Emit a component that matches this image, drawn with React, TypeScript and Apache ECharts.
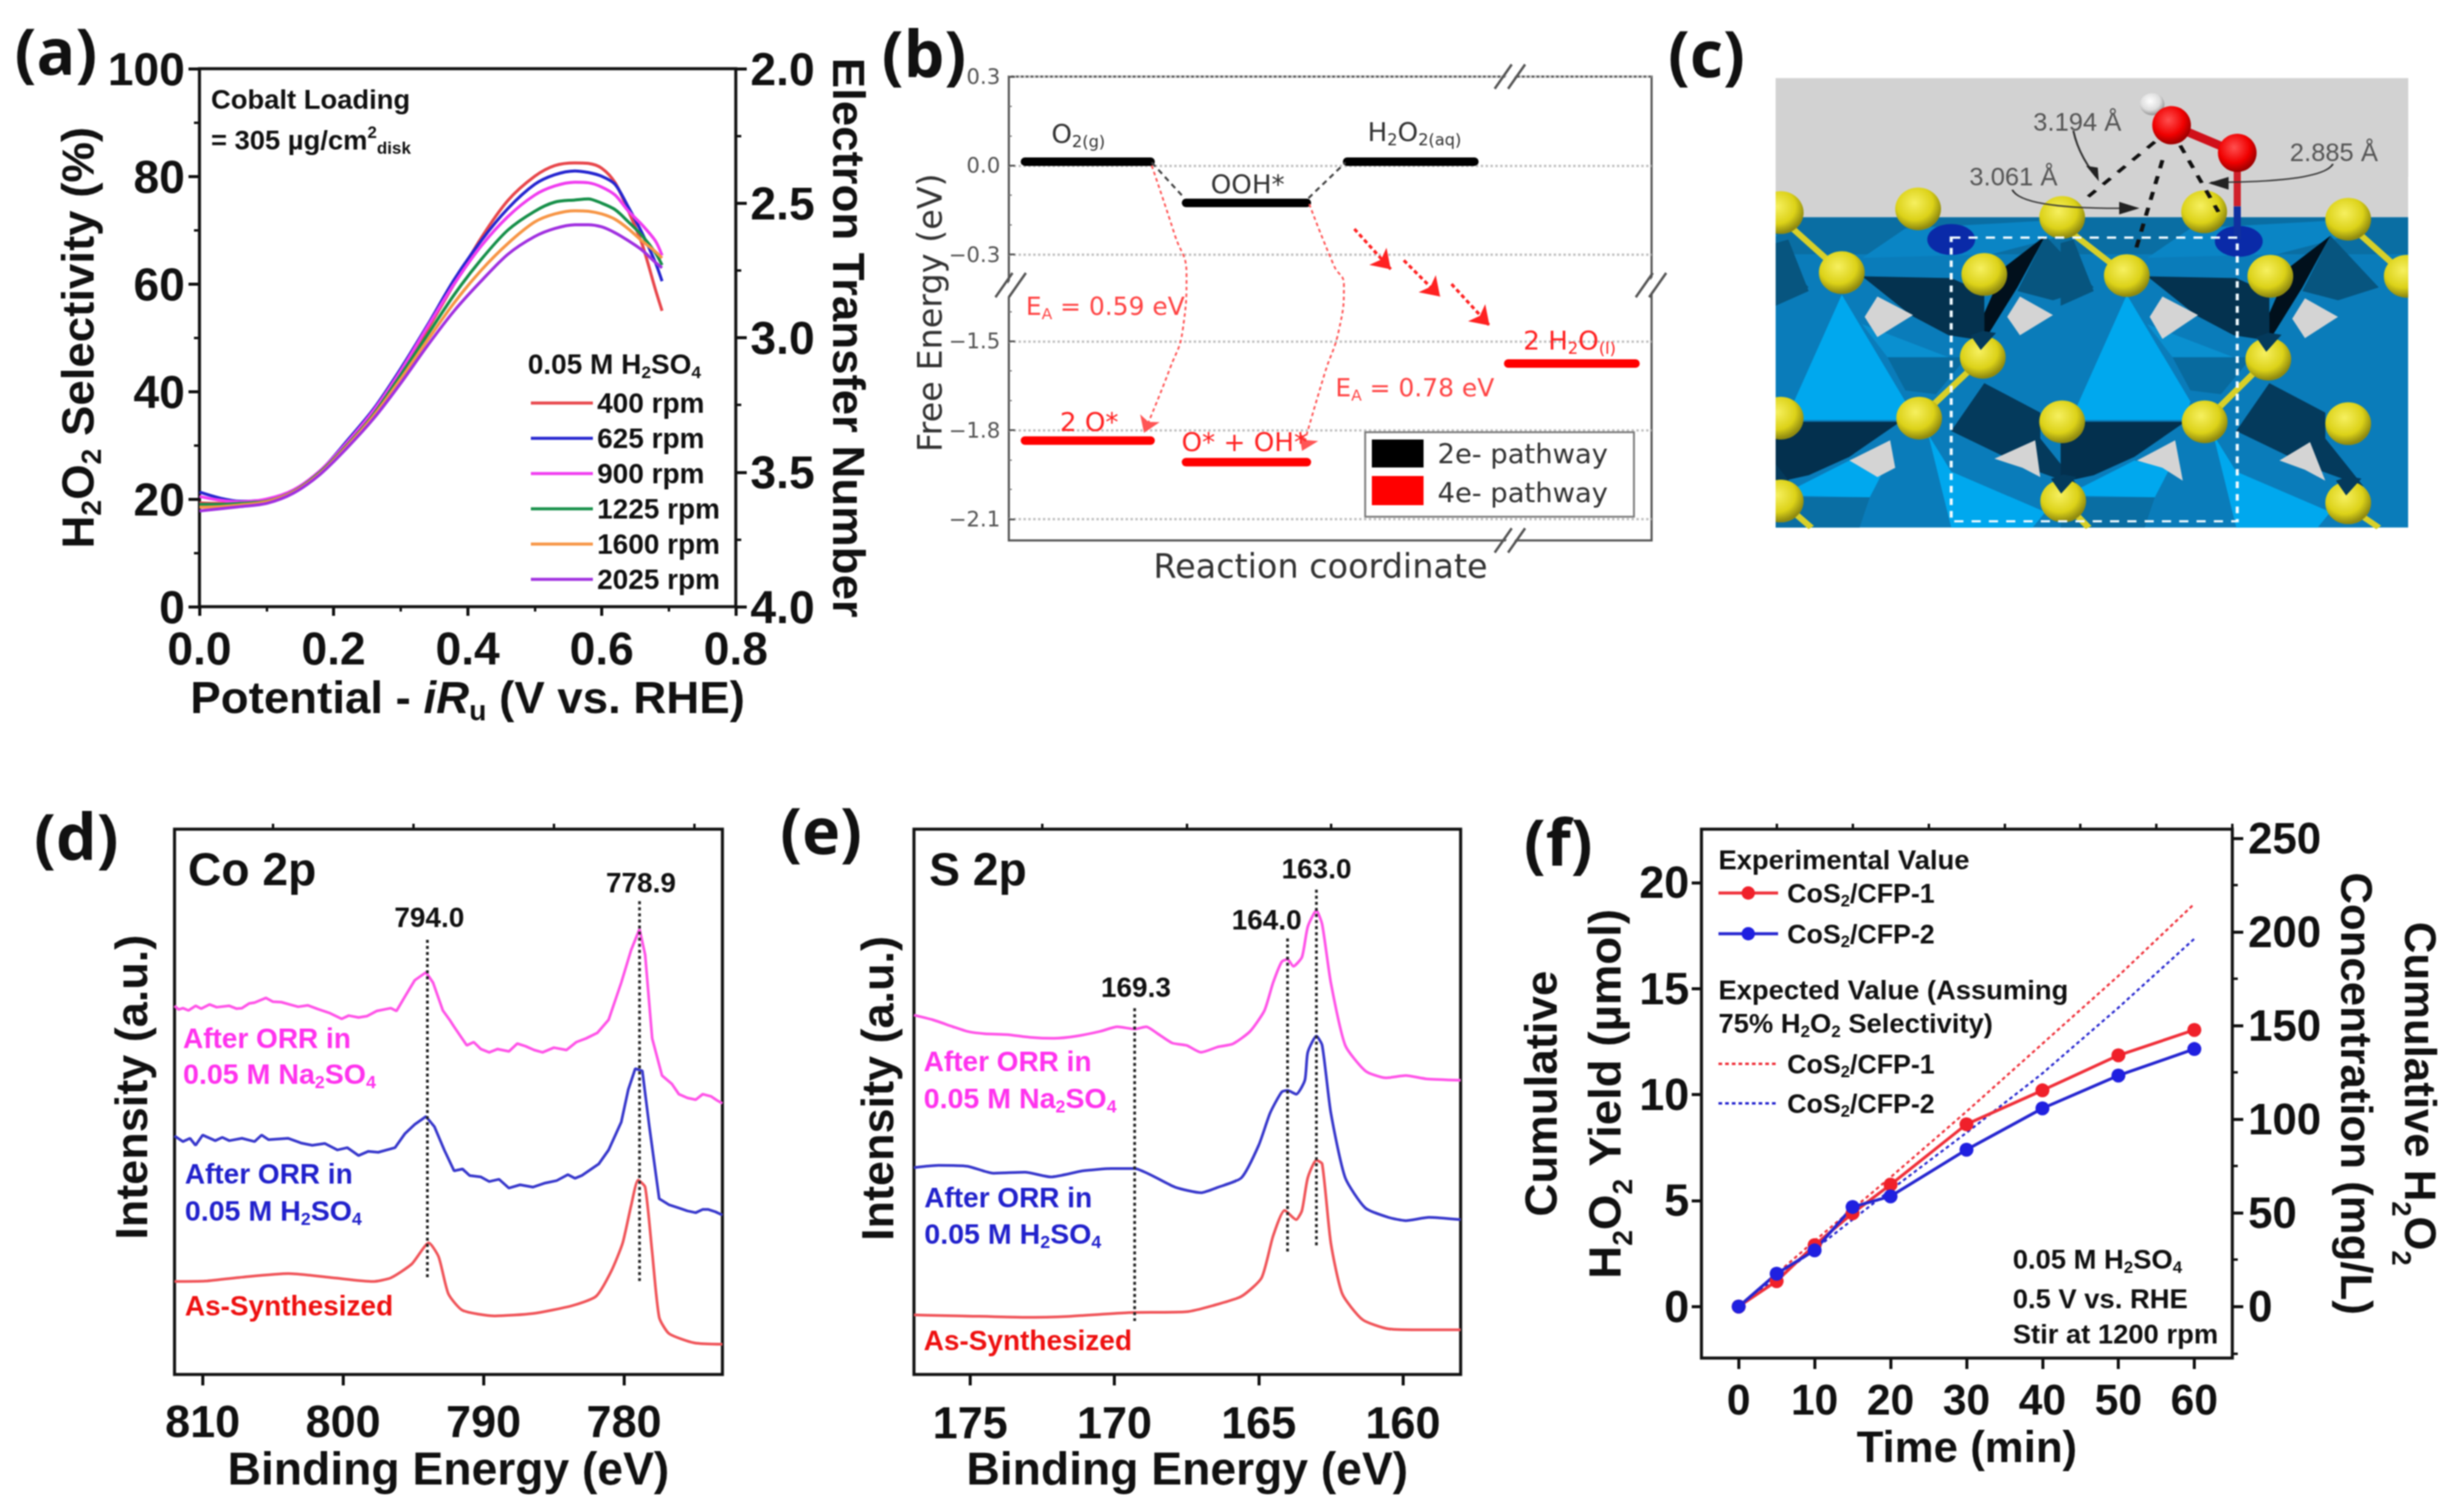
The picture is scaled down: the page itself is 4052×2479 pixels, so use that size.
import React, { useEffect, useRef } from "react";
import * as echarts from "echarts";

const SANS = "Liberation Sans";
const DEJA = "DejaVu Sans";

// ---------- panel (a)
const aPotential = [0, 0.03, 0.06, 0.1, 0.14, 0.18, 0.22, 0.26, 0.3, 0.34, 0.38, 0.42, 0.46, 0.5, 0.53, 0.56, 0.58, 0.6, 0.62, 0.64, 0.66, 0.68, 0.69];
const a400 = [19.3, 19.2, 19.3, 19.8, 21.5, 25, 30.5, 36.3, 43.5, 51.5, 60, 68.5, 75.5, 80, 82, 82.5, 82.4, 81.5, 78.8, 73.5, 67.5, 59, 55];
const a625 = [21.3, 20.2, 19.6, 19.9, 21.6, 25.2, 30.8, 36.8, 44.2, 52.3, 60.8, 68, 74, 78.5, 80.3, 81, 80.7, 80, 78.5, 74.2, 69.5, 64, 60.5];
const a900 = [20.5, 19.8, 19.5, 20, 21.7, 25.3, 30.5, 36.5, 43.8, 52, 60, 67, 72.5, 76.5, 78.2, 78.9, 78.8, 78, 76.5, 73.5, 71, 68, 65.3];
const a1225 = [19, 19, 19.2, 19.6, 21.4, 25, 30, 35.8, 43, 50.5, 58, 64.5, 70, 73.5, 75.2, 75.6, 75.8, 75, 73.8, 71.5, 69, 65.8, 63.5];
const a1600 = [18.5, 18.6, 18.9, 19.5, 21.3, 24.8, 29.8, 35.5, 42.3, 49.5, 56.5, 62.5, 67.5, 71.5, 73, 73.6, 73.5, 73, 72, 70.2, 68, 66, 64.8];
const a2025 = [17.8, 18.2, 18.6, 19.2, 21.1, 24.6, 29.5, 35, 41.5, 48.5, 55, 60.5, 65.5, 68.8, 70.3, 71, 71, 70.6, 69.5, 68, 66.3, 64, 63];
const aNames = ["400 rpm", "625 rpm", "900 rpm", "1225 rpm", "1600 rpm", "2025 rpm"];
const aValues = [a400, a625, a900, a1225, a1600, a2025];
const aColors = ["#e8474c", "#2626d0", "#f03df0", "#17904a", "#f79646", "#a030e0"];

// ---------- panel (b)
const bTicks = [0.3, 0, -0.3, -1.5, -1.8, -2.1];
const bMinorTicks = [0.2, 0.1, -0.1, -0.2, -1.4, -1.6, -1.7, -1.9, -2.0];
const bLevels2e = [
  [[0.1, 0.013], [0.88, 0.013]],
  [[1.1, -0.126], [1.85, -0.126]],
  [[2.1, 0.013], [2.89, 0.013]],
];
const bLevels4e = [
  [[0.1, -1.835], [0.88, -1.835]],
  [[1.1, -1.908], [1.85, -1.908]],
  [[3.1, -1.575], [3.89, -1.575]],
];
const bConnect = [
  [[0.887, 0.01], [1.09, -0.11]],
  [[1.86, -0.11], [2.09, 0.01]],
];
const bArc1 = [[0.887, 0.0], [1.03, -0.234], [1.103, -0.366], [1.08, -1.46], [1.0, -1.592], [0.839, -1.809]];
const bArc2 = [[1.865, -0.13], [2.02, -0.34], [2.08, -0.40], [2.05, -1.46], [1.96, -1.61], [1.82, -1.87]];
const bHop1 = [[2.145, -0.214], [2.371, -0.35]];
const bHop2 = [[2.452, -0.32], [2.677, -1.349]];
const bHop3 = [[2.748, -0.4], [2.984, -1.447]];

// ---------- panel (d)
const dPink = [[812, 793], [811.7, 785], [811.4, 788], [811, 783], [810.5, 793], [810.1, 787], [809.5, 796], [809, 790], [808.1, 793], [807.6, 787], [807.2, 788], [806.7, 798], [806.3, 800], [805.5, 810], [805, 802], [804.4, 801], [803.8, 796], [803.2, 791], [802.5, 794], [801.8, 786], [801, 778], [800.1, 765], [799.6, 772], [798.9, 768], [798.3, 771], [797.6, 782], [796.6, 788], [796.2, 782], [795.6, 813], [794.9, 848], [794.1, 865], [793.6, 843], [792.9, 783], [792.4, 762], [792.1, 748], [791.2, 708], [790.7, 715], [790.2, 700], [789.6, 693], [789, 700], [788.2, 695], [787.6, 712], [787, 706], [786.4, 698], [785.8, 693], [785, 703], [784.1, 698], [783.4, 715], [782.7, 723], [781.9, 735], [781.1, 763], [780.2, 843], [779.5, 913], [778.9, 958], [778.5, 903], [778, 723], [777.3, 643], [776.6, 625], [776.1, 603], [775.5, 595], [774.9, 591], [774.4, 603], [773.8, 598], [773.4, 590], [773, 583]];
const dBlue = [[812, 513], [811.4, 501], [810.9, 508], [810.5, 493], [810, 515], [809.1, 503], [808.6, 510], [808.1, 503], [807.2, 508], [806.3, 501], [805.8, 515], [805.3, 505], [803.9, 508], [803, 498], [802.2, 493], [801.3, 497], [800.4, 483], [799.7, 488], [798.9, 471], [798.2, 480], [797.5, 478], [796.3, 488], [795.6, 518], [794.9, 538], [794.1, 555], [793.5, 533], [792.8, 483], [792.1, 438], [791.5, 442], [791, 428], [790.2, 425], [789.6, 415], [788.9, 420], [788.2, 401], [787.4, 408], [786.5, 403], [785.6, 412], [784.8, 417], [784, 430], [783.5, 422], [783, 428], [781.8, 453], [781.1, 483], [780.2, 543], [779.7, 613], [779.2, 658], [778.7, 653], [778.2, 533], [777.5, 378], [776.8, 365], [776.1, 358], [775.5, 352], [774.9, 348], [774.4, 355], [774, 355], [773.5, 350], [773, 343]];
const dRed = [[812, 200], [809.8, 201], [807, 210], [803.9, 217], [800.7, 208], [797.9, 200], [796.6, 208], [795.1, 238], [793.9, 283], [793.2, 253], [792.5, 173], [791.5, 138], [789.2, 126], [786.5, 131], [783.7, 148], [782, 168], [780.9, 223], [780.1, 283], [779.5, 363], [779, 418], [778.5, 403], [778, 263], [777.5, 123], [776.8, 88], [775, 68], [773, 65]];
const dPeak794 = [[794, 935], [794, 205]];
const dPeak779 = [[778.9, 1018], [778.9, 201]];
const dLabels = [810, 800, 790, 780];
const dMinor = [805, 795, 785, 775];

// ---------- panel (e)
const ePink = [[176.95, 773], [176.3, 763], [175.6, 748], [175.1, 738], [174.5, 733], [173.7, 731], [172.9, 725], [172.1, 723], [171.3, 728], [170.5, 738], [169.9, 748], [169.3, 743], [168.9, 748], [168.5, 733], [168, 713], [167.5, 708], [167, 693], [166.4, 705], [165.9, 711], [165.3, 738], [164.8, 783], [164.5, 843], [164.2, 888], [164, 893], [163.8, 878], [163.5, 898], [163.3, 963], [163, 998], [162.8, 968], [162.5, 843], [162, 708], [161.3, 653], [160.6, 638], [159.9, 643], [159.2, 636], [158, 633]];
const eBlue = [[176.95, 445], [176.1, 450], [175.1, 448], [174.2, 433], [173.1, 435], [172.2, 425], [171.1, 438], [170.1, 443], [169.3, 443], [168.7, 428], [167.9, 403], [167, 391], [166.4, 403], [165.6, 423], [165, 493], [164.6, 563], [164.2, 608], [164, 611], [163.7, 603], [163.4, 633], [163.3, 693], [163, 728], [162.8, 708], [162.5, 563], [162, 423], [161.3, 358], [160.5, 338], [159.9, 331], [159.1, 338], [158, 333]];
const eRed = [[176.95, 128], [175.3, 126], [173.2, 123], [171.6, 125], [169.5, 133], [167.5, 135], [166.6, 148], [165.6, 168], [164.9, 208], [164.5, 298], [164.1, 353], [163.7, 333], [163.5, 353], [163.3, 423], [163, 461], [162.8, 453], [162.5, 283], [162.1, 173], [161.4, 118], [160.5, 98], [159.2, 96], [158, 96]];
const ePeak169 = [[169.3, 788], [169.3, 115]];
const ePeak164 = [[164, 938], [164, 263]];
const ePeak163 = [[163, 1043], [163, 278]];
const eLabels = [175, 170, 165, 160];
const eMinor = [172.5, 167.5, 162.5];

// ---------- panel (f)
const fTime = [0, 5, 10, 15, 20, 30, 40, 50, 60];
const fExp1 = [0, 1.2, 2.9, 4.4, 5.75, 8.6, 10.2, 11.85, 13.05];
const fExp2 = [0, 1.55, 2.65, 4.7, 5.2, 7.4, 9.35, 10.9, 12.15];
const fCalcTime = [0, 10, 20, 30, 40, 50, 60];
const fCalc1 = [0, 3.1, 6.1, 9.2, 12.4, 15.6, 19.0];
const fCalc2 = [0, 2.7, 5.5, 8.2, 11.0, 14.1, 17.35];
const fXLabels = [0, 10, 20, 30, 40, 50, 60];
const fXMinor = [-5, 5, 15, 25, 35, 45, 55, 65];
const fYLabels = [0, 5, 10, 15, 20];
const fRLabels = [0, 50, 100, 150, 200, 250];
const fRMinor = [-25, 25, 75, 125, 175, 225];

const rich = (size: number, color: string, family = SANS, weight: any = "bold", lh?: number) => ({
  n: { fontSize: size, fill: color, color, fontFamily: family, fontWeight: weight, lineHeight: lh ?? size * 1.2 },
  i: { fontSize: size, fill: color, color, fontFamily: family, fontWeight: weight, fontStyle: "italic", lineHeight: lh ?? size * 1.2 },
  s: { fontSize: size * 0.62, fill: color, color, fontFamily: family, fontWeight: weight, verticalAlign: "bottom", lineHeight: size * 0.8 },
  u: { fontSize: size * 0.62, fill: color, color, fontFamily: family, fontWeight: weight, verticalAlign: "top", lineHeight: size * 0.8 },
});

const T = (x: number, y: number, text: string, size: number, o: any = {}) => {
  const color = o.color ?? "#111";
  const family = o.family ?? SANS;
  const weight = o.weight ?? "bold";
  return {
    type: "text", x, y, rotation: o.rotation ?? 0, z: 100,
    style: {
      text, fill: color, fontSize: size, fontFamily: family, fontWeight: weight,
      align: o.align ?? "left", verticalAlign: "middle",
      textAlign: o.align ?? "left", textVerticalAlign: "middle",
      rich: text.includes("{") ? rich(size, color, family, weight) : undefined,
    },
  };
};
const L = (x1: number, y1: number, x2: number, y2: number, stroke: string, lineWidth: number, lineDash?: number[]) => ({
  type: "line", z: 90, shape: { x1, y1, x2, y2 }, style: { stroke, lineWidth, lineDash },
});
const slashes = (cx: number, cy: number) => [
  { type: "polygon", shape: { points: [[cx - 20, cy + 20], [cx + 6, cy - 20], [cx + 20, cy - 20], [cx - 6, cy + 20]] }, style: { fill: "#fff" } },
  L(cx - 26, cy + 20, cx + 2, cy - 20, "#555", 4),
  L(cx - 4, cy + 20, cx + 24, cy - 20, "#555", 4),
].map((e: any) => ({ ...e, z: 95 }));

// ---------- panel (c) drawn in crop-space, then scaled
const C_LEFT = 215;
const C_RIGHT = 1458;
const clipX = (pts: number[][], edge: number, keepGreater: boolean) => {
  const out: number[][] = [];
  pts.forEach((p, i) => {
    const q = pts[(i + 1) % pts.length];
    const pIn = keepGreater ? p[0] >= edge : p[0] <= edge;
    const qIn = keepGreater ? q[0] >= edge : q[0] <= edge;
    if (pIn) out.push(p);
    if (pIn !== qIn) {
      const t = (edge - p[0]) / (q[0] - p[0]);
      out.push([edge, p[1] + t * (q[1] - p[1])]);
    }
  });
  return out;
};
const poly = (fill: string, pts: number[][], dx = 0) => {
  const moved = pts.map(([x, y]) => [x + dx, y]);
  const clipped = clipX(clipX(moved, C_LEFT, true), C_RIGHT, false);
  return { type: "polygon", shape: { points: clipped.length ? clipped : [[C_LEFT, 300], [C_LEFT, 300], [C_LEFT, 300]] }, style: { fill } };
};
const ball = (cx: number, cy: number, rx: number, ry: number, c0: string, c1: string, c2: string) => ({
  type: "ellipse", shape: { cx, cy, rx, ry },
  style: { fill: new echarts.graphic.RadialGradient(0.42, 0.36, 0.62, [{ offset: 0, color: c0 }, { offset: 0.65, color: c1 }, { offset: 1, color: c2 }]) },
});
const yel = ([x, y]: number[]) => ball(x, y, 45, 58, "#f6f060", "#dcd218", "#8f8a10");
const row0 = [[225, 577], [495, 567], [778, 590], [1057, 575], [1340, 595]];
const row1 = [[345, 740], [625, 745], [905, 748], [1187, 750], [1455, 750]];
const row2 = [[622, 970], [1183, 975]];
const row3 = [[225, 1135], [497, 1135], [778, 1145], [1058, 1145], [1340, 1150]];
const row4 = [[225, 1360], [780, 1360], [1340, 1365]];
const dents = [[622, 918], [1183, 923], [780, 1308], [1340, 1313]];
const bonds = [
  [240, 610, 345, 740], [790, 625, 905, 748], [1350, 620, 1455, 750],
  [600, 1000, 497, 1135], [1160, 1005, 1058, 1145],
  [225, 1360, 285, 1432], [790, 1375, 830, 1432], [1345, 1380, 1400, 1432],
];
const tile = (dx: number) => [
  poly("#0a85c5", [[385, 700], [470, 620], [735, 600], [780, 640], [640, 690]], dx),
  poly("#04324f", [[385, 750], [560, 755], [625, 795], [625, 925], [555, 910], [480, 855]], dx),
  poly("#07557f", [[745, 640], [840, 780], [760, 815], [690, 790]], dx),
  poly("#01101c", [[745, 640], [665, 725], [625, 850], [625, 925], [690, 780]], dx),
  poly("#07557f", [[240, 650], [280, 790], [215, 830], [215, 660]], dx),
  poly("#00a8ee", [[345, 800], [470, 1090], [460, 1140], [235, 1140]], dx),
  poly("#0a90d0", [[385, 880], [555, 970], [435, 970]], dx),
  poly("#086a9e", [[435, 970], [590, 970], [530, 1070], [470, 1060]], dx),
  poly("#03304e", [[215, 1145], [460, 1145], [360, 1240], [280, 1290], [215, 1310]], dx),
  poly("#043a5c", [[625, 1040], [735, 1120], [735, 1190], [810, 1320], [710, 1270], [560, 1170]], dx),
  poly("#00a8ee", [[515, 1180], [560, 1280], [745, 1390], [720, 1432], [560, 1432]], dx),
  poly("#00a8ee", [[215, 1345], [400, 1350], [430, 1270], [360, 1250], [260, 1320]], dx),
  poly("#0a6ea3", [[215, 1350], [400, 1350], [380, 1432], [215, 1432]], dx),
];
const holes = [
  [[415, 805], [485, 855], [415, 915], [390, 860]], [[695, 805], [760, 855], [695, 910], [670, 860]],
  [[975, 805], [1045, 855], [975, 920], [950, 860]], [[1255, 810], [1320, 860], [1255, 918], [1230, 865]],
  [[440, 1195], [450, 1270], [415, 1295], [360, 1250]], [[725, 1195], [735, 1295], [700, 1270], [645, 1245]],
  [[1000, 1195], [1015, 1305], [975, 1270], [925, 1250]], [[1265, 1200], [1295, 1305], [1255, 1275], [1205, 1250]],
];
const ln = (x1: number, y1: number, x2: number, y2: number, stroke: string, lineWidth: number, lineDash?: number[]) => ({
  type: "line", shape: { x1, y1, x2, y2 }, style: { stroke, lineWidth, lineDash },
});
const curve = (x1: number, y1: number, cx: number, cy: number, x2: number, y2: number) => ({
  type: "bezierCurve", shape: { x1, y1, cpx1: cx, cpy1: cy, x2, y2 }, style: { stroke: "#333", lineWidth: 4, fill: "none" },
});
const panelC = {
  type: "group", x: 2740, y: 0, scaleX: 1312 / 1568, scaleY: 950 / 1568, z: 50,
  children: [
    { type: "rect", shape: { x: 215, y: 212, width: 1243, height: 378 }, style: { fill: "#d2d2d2" } },
    { type: "rect", shape: { x: 215, y: 590, width: 1243, height: 842 }, style: { fill: "#0a7cba" } },
    { type: "rect", shape: { x: 215, y: 590, width: 1243, height: 100 }, style: { fill: "#0a6ea3" } },
    ...tile(0), ...tile(560), ...tile(-560),
    ...holes.map((p) => poly("#d4d4d4", p)),
    ...bonds.map(([a, b, c, d]) => ln(a, b, c, d, "#d8d028", 14)),
    ...[...row0, ...row1, ...row2, ...row3, ...row4].map(yel),
    ...dents.map(([x, y]) => poly("#043a5c", [[x - 24, y - 8], [x - 4, y + 32], [x + 26, y - 14], [x, y - 20]])),
    // masks for spheres that run over the frame
    { type: "rect", shape: { x: 150, y: 480, width: 65, height: 960 }, style: { fill: "#fff" } },
    { type: "rect", shape: { x: 1458, y: 480, width: 60, height: 960 }, style: { fill: "#fff" } },
    { type: "ellipse", shape: { cx: 560, cy: 650, rx: 47, ry: 42 }, style: { fill: "#0a2aa8" } },
    { type: "ellipse", shape: { cx: 1125, cy: 655, rx: 47, ry: 42 }, style: { fill: "#0a2aa8" } },
    ln(1122, 560, 1122, 650, "#1030a0", 14),
    ln(1122, 415, 1122, 560, "#d0202a", 14),
    ln(993, 340, 1122, 415, "#d0101a", 22),
    ball(955, 283, 24, 30, "#ffffff", "#dddddd", "#999999"),
    ball(993, 340, 38, 52, "#ff5050", "#f00000", "#a00000"),
    ball(1122, 415, 38, 52, "#ff5050", "#f00000", "#a00000"),
    ln(960, 385, 815, 550, "#111", 8, [22, 22]),
    ln(975, 435, 920, 690, "#111", 8, [22, 22]),
    ln(1010, 395, 1085, 575, "#111", 8, [22, 22]),
    curve(800, 355, 810, 420, 845, 480),
    poly("#222", [[825, 450], [848, 455], [850, 492]]),
    curve(680, 515, 700, 570, 925, 565),
    poly("#222", [[890, 548], [930, 565], [890, 582]]),
    curve(1310, 445, 1290, 495, 1070, 495),
    poly("#222", [[1105, 480], [1065, 497], [1105, 515]]),
    { type: "rect", shape: { x: 560, y: 645, width: 562, height: 770 }, style: { fill: "none", stroke: "#f2fbff", lineWidth: 6, lineDash: [18, 16] } },
  ],
};

const tickText = (size: number) => ({ fontFamily: SANS, fontWeight: "bold", fontSize: size, color: "#111" } as any);
const names = (size: number, color = "#111", family = SANS, weight: any = "bold", lh?: number) => ({
  fontFamily: family, fontWeight: weight, fontSize: size, color, rich: rich(size, color, family, weight, lh),
});
const noLine = { show: false, onZero: false };
const hiddenAxis = { axisLine: noLine, axisLabel: { show: false }, axisTick: { show: false }, splitLine: { show: false } };
const tickStyle = (w = 5) => ({ lineStyle: { width: w, color: "#111" } });

const line = (name: any, x: number, y: number, data: any[], color: string, width: number, extra: any = {}) => ({
  type: "line", name, xAxisIndex: x, yAxisIndex: y, data, symbol: "none", showSymbol: true, silent: true, clip: false,
  lineStyle: { color, width, ...(extra.lineStyle || {}) }, itemStyle: { color },
  ...Object.fromEntries(Object.entries(extra).filter(([k]) => k !== "lineStyle")),
});
const zip = (xs: number[], ys: number[]) => xs.map((x, i) => [x, ys[i]]);
const arrowEnd = (pts: number[][], rotate: number, size = 26) =>
  pts.map((p, i) => (i === pts.length - 1 ? { value: p, symbol: "arrow", symbolSize: size, symbolRotate: rotate } : p));

const option: any = {
  animation: false,
  backgroundColor: "#fff",
  grid: [
    { left: 328, top: 113, width: 882, height: 885, show: true, borderColor: "#111", borderWidth: 5, backgroundColor: "transparent" },
    { left: 1659, top: 126, width: 1057, height: 763, show: true, borderColor: "#555", borderWidth: 3.5, backgroundColor: "transparent" },
    { left: 287, top: 1364, width: 901, height: 897, show: true, borderColor: "#111", borderWidth: 5, backgroundColor: "transparent" },
    { left: 1503, top: 1364, width: 899, height: 897, show: true, borderColor: "#111", borderWidth: 5, backgroundColor: "transparent" },
    { left: 2798, top: 1364, width: 873, height: 870, show: true, borderColor: "#111", borderWidth: 5, backgroundColor: "transparent" },
  ],
  legend: {
    data: aNames, left: 868, top: 632, orient: "vertical", icon: "rect", itemWidth: 102, itemHeight: 5, itemGap: 6, selectedMode: false,
    textStyle: { fontFamily: SANS, fontWeight: "bold", fontSize: 46, color: "#111", padding: [0, 0, 0, 2], lineHeight: 52 },
  },
  xAxis: [
    {
      gridIndex: 0, type: "value", min: 0, max: 0.8, interval: 0.2, position: "bottom",
      axisLine: noLine, splitLine: { show: false },
      axisTick: { length: 15, ...tickStyle() }, minorTick: { show: true, splitNumber: 2, length: 8, ...tickStyle(4) },
      axisLabel: { ...tickText(76), margin: 30, formatter: (v: number) => v.toFixed(1) },
      name: "{n|Potential - }{i|iR}{s|u}{n| (V vs. RHE)}", nameLocation: "middle", nameGap: 104, nameTextStyle: names(75),
    },
    {
      gridIndex: 1, type: "value", min: 0, max: 3.99, position: "bottom", ...hiddenAxis,
      name: "Reaction coordinate", nameLocation: "middle", nameGap: 14,
      nameTextStyle: { fontFamily: DEJA, fontSize: 55, color: "#333", verticalAlign: "top", padding: [0, 32, 0, 0] },
    },
    {
      gridIndex: 2, type: "value", min: 773, max: 812, inverse: true, axisLine: noLine, splitLine: { show: false },
      axisTick: { length: 18, customValues: dLabels, ...tickStyle() },
      axisLabel: { ...tickText(74), margin: 40, customValues: dLabels },
      name: "Binding Energy (eV)", nameLocation: "middle", nameGap: 116, nameTextStyle: names(76),
    },
    {
      gridIndex: 3, type: "value", min: 158, max: 176.95, inverse: true, axisLine: noLine, splitLine: { show: false },
      axisTick: { length: 18, customValues: eLabels, ...tickStyle() },
      axisLabel: { ...tickText(74), margin: 42, customValues: eLabels },
      name: "Binding Energy (eV)", nameLocation: "middle", nameGap: 116, nameTextStyle: names(76),
    },
    {
      gridIndex: 4, type: "value", min: -4.9, max: 65, axisLine: noLine, splitLine: { show: false },
      axisTick: { length: 18, customValues: fXLabels, ...tickStyle() },
      axisLabel: { ...tickText(70), margin: 34, customValues: fXLabels },
      name: "Time (min)", nameLocation: "middle", nameGap: 110, nameTextStyle: names(72),
    },
    { gridIndex: 2, type: "value", min: 773, max: 812, inverse: true, ...hiddenAxis, axisTick: { show: true, length: 9, customValues: dMinor, ...tickStyle(4) } },
    { gridIndex: 3, type: "value", min: 158, max: 176.95, inverse: true, ...hiddenAxis, axisTick: { show: true, length: 9, customValues: eMinor, ...tickStyle(4) } },
    { gridIndex: 4, type: "value", min: -4.9, max: 65, ...hiddenAxis, axisTick: { show: true, length: 9, customValues: fXMinor, ...tickStyle(4) } },
  ],
  yAxis: [
    {
      gridIndex: 0, type: "value", min: 0, max: 100, interval: 20, position: "left",
      axisLine: noLine, splitLine: { show: false },
      axisTick: { length: 18, ...tickStyle() }, minorTick: { show: true, splitNumber: 2, length: 9, ...tickStyle(4) },
      axisLabel: { ...tickText(76), margin: 24 },
      name: "{n|H}{s|2}{n|O}{s|2}{n| Selectivity (%)}", nameLocation: "middle", nameGap: 145, nameRotate: 90, nameTextStyle: names(75),
    },
    {
      gridIndex: 1, type: "value", min: -2.172, max: 0.3, position: "left",
      breaks: [{ start: -1.31, end: -0.403, gap: 0 }], breakArea: { show: false },
      axisLine: noLine,
      splitLine: { show: true, lineStyle: { type: "dotted", color: "#c4c4c4", width: 4 } },
      axisTick: { inside: true, length: 10, customValues: bTicks, lineStyle: { width: 3, color: "#555" } },
      axisLabel: { fontFamily: DEJA, fontSize: 35, color: "#555", margin: 14, customValues: bTicks, formatter: (v: number) => v.toFixed(1).replace("-", "\u2212") },
      name: "Free Energy (eV)", nameLocation: "middle", nameGap: 74, nameRotate: 90, nameTextStyle: { fontFamily: DEJA, fontSize: 55, color: "#333", padding: [0, 14, 0, 0] },
    },
    {
      gridIndex: 2, type: "value", min: 0, max: 1173, ...hiddenAxis,
      name: "Intensity (a.u.)", nameLocation: "middle", nameGap: 34, nameRotate: 90, nameTextStyle: { ...names(74), padding: [0, 0, 0, 48] },
    },
    {
      gridIndex: 3, type: "value", min: 0, max: 1173, ...hiddenAxis,
      name: "Intensity (a.u.)", nameLocation: "middle", nameGap: 23, nameRotate: 90, nameTextStyle: { ...names(74), padding: [0, 0, 0, 44] },
    },
    {
      gridIndex: 4, type: "value", min: -2.43, max: 22.52, position: "left",
      axisLine: noLine, splitLine: { show: false },
      axisTick: { length: 16, customValues: fYLabels, ...tickStyle() },
      axisLabel: { ...tickText(74), margin: 20, customValues: fYLabels },
      name: "{n|Cumulative}\n{n|H}{s|2}{n|O}{s|2}{n| Yield (\u00b5mol)}", nameLocation: "middle", nameGap: 104, nameRotate: 90,
      nameTextStyle: names(75, "#111", SANS, "bold", 105),
    },
    {
      gridIndex: 0, type: "value", min: 2, max: 4, interval: 0.5, inverse: true, position: "right",
      axisLine: noLine, splitLine: { show: false },
      axisTick: { length: 18, ...tickStyle() }, minorTick: { show: true, splitNumber: 2, length: 9, ...tickStyle(4) },
      axisLabel: { ...tickText(76), margin: 24, formatter: (v: number) => v.toFixed(1) },
      name: "Electron Transfer Number", nameLocation: "middle", nameGap: 148, nameRotate: -90, nameTextStyle: names(75),
    },
    {
      gridIndex: 4, type: "value", min: -27.5, max: 254.8, position: "right",
      axisLine: noLine, splitLine: { show: false },
      axisTick: { length: 18, customValues: fRLabels, ...tickStyle() },
      axisLabel: { ...tickText(72), margin: 26, customValues: fRLabels },
      name: "{n|Cumulative H}{s|2}{n|O}{s|2}\n{n|Concentration (mg/L)}", nameLocation: "middle", nameGap: 151, nameRotate: -90,
      nameTextStyle: names(72, "#111", SANS, "bold", 105),
    },
    {
      gridIndex: 1, type: "value", min: -2.172, max: 0.3, position: "left", ...hiddenAxis,
      breaks: [{ start: -1.31, end: -0.403, gap: 0 }], breakArea: { show: false },
      axisTick: { show: true, inside: true, length: 5, customValues: bMinorTicks, lineStyle: { width: 2, color: "#777" } },
    },
    {
      gridIndex: 4, type: "value", min: -27.5, max: 254.8, position: "right", ...hiddenAxis,
      axisTick: { show: true, length: 9, customValues: fRMinor, ...tickStyle(4) },
    },
  ],
  graphic: {
    elements: [
      // panel letters
      T(24, 82, "(a)", 106, { family: "Open Sans", weight: 700 }),
      T(1450, 86, "(b)", 106, { family: "Open Sans", weight: 700 }),
      T(2743, 86, "(c)", 106, { family: "Open Sans", weight: 700 }),
      T(56, 1374, "(d)", 106, { family: "Open Sans", weight: 700 }),
      T(1283, 1364, "(e)", 106, { family: "Open Sans", weight: 700 }),
      T(2506, 1383, "(f)", 106, { family: "Open Sans", weight: 700 }),
      // (a)
      T(347, 163, "Cobalt Loading", 45),
      T(347, 230, "{n|= 305 \u00b5g/cm}{u|2}{s|disk}", 45),
      T(868, 599, "{n|0.05 M H}{s|2}{n|SO}{s|4}", 46),
      // (b)
      T(1729, 220, "{n|O}{s|2(g)}", 43, { family: DEJA, weight: "normal", color: "#333" }),
      T(2249, 217, "{n|H}{s|2}{n|O}{s|2(aq)}", 43, { family: DEJA, weight: "normal", color: "#333" }),
      T(1991, 303, "OOH*", 43, { family: DEJA, weight: "normal", color: "#333" }),
      T(1743, 694, "2 O*", 43, { family: DEJA, weight: "normal", color: "#f22" }),
      T(1943, 727, "O* + OH*", 43, { family: DEJA, weight: "normal", color: "#f22" }),
      T(2505, 560, "{n|2 H}{s|2}{n|O}{s|(l)}", 43, { family: DEJA, weight: "normal", color: "#f22" }),
      T(1687, 504, "{n|E}{s|A}{n| = 0.59 eV}", 41, { family: DEJA, weight: "normal", color: "#f44" }),
      T(2196, 638, "{n|E}{s|A}{n| = 0.78 eV}", 41, { family: DEJA, weight: "normal", color: "#f44" }),
      { type: "rect", z: 98, shape: { x: 2245, y: 711, width: 442, height: 139 }, style: { fill: "#fff", stroke: "#777", lineWidth: 3 } },
      { type: "rect", z: 99, shape: { x: 2256, y: 723, width: 85, height: 46 }, style: { fill: "#000" } },
      { type: "rect", z: 99, shape: { x: 2256, y: 783, width: 85, height: 48 }, style: { fill: "#f00" } },
      T(2364, 746, "2e- pathway", 45, { family: DEJA, weight: "normal", color: "#333" }),
      T(2364, 810, "4e- pathway", 45, { family: DEJA, weight: "normal", color: "#333" }),
      ...slashes(1663, 469), ...slashes(2716, 469), ...slashes(2484, 126), ...slashes(2484, 889),
      // (c)
      panelC,
      T(3416, 200, "3.194 \u00c5", 42, { align: "center", weight: "normal", color: "#555" }),
      T(3311, 290, "3.061 \u00c5", 42, { align: "center", weight: "normal", color: "#555" }),
      T(3838, 250, "2.885 \u00c5", 42, { align: "center", weight: "normal", color: "#555" }),
      // (d)
      T(309, 1429, "Co 2p", 76),
      T(706, 1509, "794.0", 46, { align: "center" }),
      T(1054, 1452, "778.9", 46, { align: "center" }),
      T(301, 1708, "After ORR in", 46, { color: "#ff33ee" }),
      T(301, 1766, "{n|0.05 M Na}{s|2}{n|SO}{s|4}", 47, { color: "#ff33ee" }),
      T(304, 1931, "After ORR in", 46, { color: "#2222cc" }),
      T(304, 1991, "{n|0.05 M H}{s|2}{n|SO}{s|4}", 47, { color: "#2222cc" }),
      T(304, 2148, "As-Synthesized", 46, { color: "#ee1111" }),
      // (e)
      T(1528, 1429, "S 2p", 76),
      T(1868, 1624, "169.3", 46, { align: "center" }),
      T(2083, 1513, "164.0", 46, { align: "center" }),
      T(2165, 1429, "163.0", 46, { align: "center" }),
      T(1519, 1746, "After ORR in", 46, { color: "#ff33ee" }),
      T(1519, 1806, "{n|0.05 M Na}{s|2}{n|SO}{s|4}", 47, { color: "#ff33ee" }),
      T(1520, 1970, "After ORR in", 46, { color: "#2222cc" }),
      T(1520, 2029, "{n|0.05 M H}{s|2}{n|SO}{s|4}", 47, { color: "#2222cc" }),
      T(1519, 2205, "As-Synthesized", 46, { color: "#ee1111" }),
      // (f)
      T(2826, 1414, "Experimental Value", 45),
      L(2826, 1469, 2924, 1469, "#f0303a", 5),
      { type: "circle", z: 91, shape: { cx: 2875, cy: 1469, r: 11 }, style: { fill: "#f0202a" } },
      L(2826, 1536, 2924, 1536, "#2626d0", 5),
      { type: "circle", z: 91, shape: { cx: 2875, cy: 1536, r: 11 }, style: { fill: "#2020e0" } },
      T(2939, 1469, "{n|CoS}{s|2}{n|/CFP-1}", 44),
      T(2939, 1536, "{n|CoS}{s|2}{n|/CFP-2}", 44),
      T(2826, 1628, "Expected Value (Assuming", 45),
      T(2826, 1683, "{n|75% H}{s|2}{n|O}{s|2}{n| Selectivity)}", 45),
      L(2826, 1750, 2924, 1750, "#f0303a", 4, [6, 5]),
      L(2826, 1815, 2924, 1815, "#2626d0", 4, [6, 5]),
      T(2939, 1750, "{n|CoS}{s|2}{n|/CFP-1}", 44),
      T(2939, 1815, "{n|CoS}{s|2}{n|/CFP-2}", 44),
      T(3310, 2071, "{n|0.05 M H}{s|2}{n|SO}{s|4}", 45),
      T(3310, 2136, "0.5 V vs. RHE", 45),
      T(3310, 2194, "Stir at 1200 rpm", 45),
    ],
  },
  series: [
    // (a)
    ...aNames.map((n, i) => line(n, 0, 0, zip(aPotential, aValues[i]), aColors[i], 5, { smooth: 0.3 })),
    // (b)
    ...bLevels2e.map((d) => line(undefined, 1, 1, d, "#000", 14, { lineStyle: { cap: "round" } })),
    ...bLevels4e.map((d) => line(undefined, 1, 1, d, "#f00", 14, { lineStyle: { cap: "round" } })),
    ...bConnect.map((d) => line(undefined, 1, 1, d, "#444", 3.5, { lineStyle: { type: [9, 7] } })),
    line(undefined, 1, 1, arrowEnd(bArc1, 158), "#f55", 3, { smooth: 0.5, lineStyle: { type: [6, 5] } }),
    line(undefined, 1, 1, arrowEnd(bArc2, 155), "#f55", 3, { smooth: 0.5, lineStyle: { type: [6, 5] } }),
    line(undefined, 1, 1, arrowEnd(bHop1, -135, 30), "#f22", 5, { lineStyle: { type: [7, 5] } }),
    line(undefined, 1, 1, arrowEnd(bHop2, -135, 30), "#f22", 5, { lineStyle: { type: [7, 5] } }),
    line(undefined, 1, 1, arrowEnd(bHop3, -135, 30), "#f22", 5, { lineStyle: { type: [7, 5] } }),
    // (d)
    line(undefined, 2, 2, dPink, "#ff55e8", 4.5),
    line(undefined, 2, 2, dBlue, "#3838cc", 4.5),
    line(undefined, 2, 2, dRed, "#f0555a", 4.5, { smooth: 0.2 }),
    line(undefined, 2, 2, dPeak794, "#222", 4.5, { lineStyle: { type: [5, 5] } }),
    line(undefined, 2, 2, dPeak779, "#222", 4.5, { lineStyle: { type: [5, 5] } }),
    // (e)
    line(undefined, 3, 3, ePink, "#ff55e8", 4.5, { smooth: 0.2 }),
    line(undefined, 3, 3, eBlue, "#3838cc", 4.5, { smooth: 0.2 }),
    line(undefined, 3, 3, eRed, "#f0555a", 4.5, { smooth: 0.2 }),
    line(undefined, 3, 3, ePeak169, "#222", 4.5, { lineStyle: { type: [5, 5] } }),
    line(undefined, 3, 3, ePeak164, "#222", 4.5, { lineStyle: { type: [5, 5] } }),
    line(undefined, 3, 3, ePeak163, "#222", 4.5, { lineStyle: { type: [5, 5] } }),
    // (f)
    line(undefined, 4, 4, zip(fCalcTime, fCalc1), "#f0303a", 3.5, { lineStyle: { type: [6, 5] } }),
    line(undefined, 4, 4, zip(fCalcTime, fCalc2), "#2626d0", 3.5, { lineStyle: { type: [6, 5] } }),
    line(undefined, 4, 4, zip(fTime, fExp1), "#f0303a", 5, { symbol: "circle", symbolSize: 23, itemStyle: { color: "#f0202a" } }),
    line(undefined, 4, 4, zip(fTime, fExp2), "#2626d0", 5, { symbol: "circle", symbolSize: 23, itemStyle: { color: "#2020e0" } }),
  ],
};

export default function App() {
  const ref = useRef<HTMLDivElement>(null);
  useEffect(() => {
    const chart = echarts.init(ref.current!, undefined, { renderer: "svg" });
    chart.setOption(option);
    return () => chart.dispose();
  }, []);
  return <div ref={ref} style={{ position: "absolute", left: 0, top: 0, width: 4052, height: 2479, filter: "blur(1.2px)" }} />;
}
